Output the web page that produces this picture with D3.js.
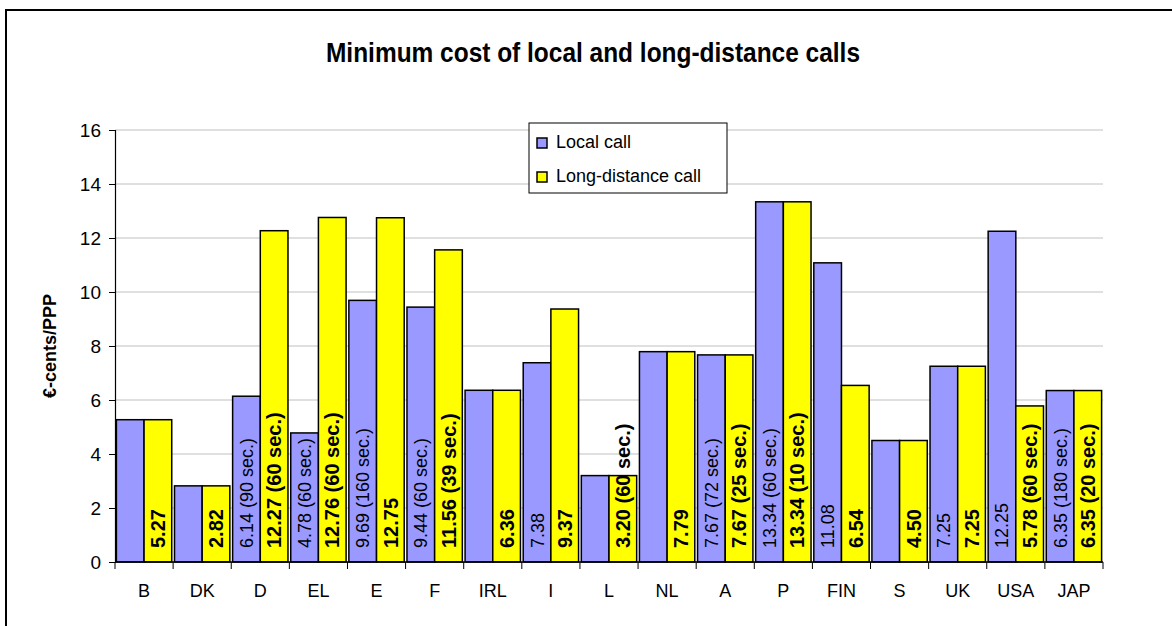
<!DOCTYPE html>
<html>
<head>
<meta charset="utf-8">
<script src="https://cdn.jsdelivr.net/npm/d3@7"></script>
<style>
  body { margin: 0; background: #fff; }
  text { font-family: "Liberation Sans", Arial, sans-serif; fill: #000; }
</style>
</head>
<body>
<script>
  var categories = ["B", "DK", "D", "EL", "E", "F", "IRL", "I", "L", "NL", "A", "P", "FIN", "S", "UK", "USA", "JAP"];
  var localCall = [5.27, 2.82, 6.14, 4.78, 9.69, 9.44, 6.36, 7.38, 3.20, 7.79, 7.67, 13.34, 11.08, 4.50, 7.25, 12.25, 6.35];
  var longCall = [5.27, 2.82, 12.27, 12.76, 12.75, 11.56, 6.36, 9.37, 3.20, 7.79, 7.67, 13.34, 6.54, 4.50, 7.25, 5.78, 6.35];
  var localLabels = ["", "", "6.14 (90 sec.)", "4.78 (60 sec.)", "9.69 (160 sec.)", "9.44 (60 sec.)", "", "7.38", "", "",
    "7.67 (72 sec.)", "13.34 (60 sec.)", "11.08", "", "7.25", "12.25", "6.35 (180 sec.)"];
  var longLabels = ["5.27", "2.82", "12.27 (60 sec.)", "12.76 (60 sec.)", "12.75", "11.56 (39 sec.)", "6.36", "9.37",
    "3.20 (60 sec.)", "7.79", "7.67 (25 sec.)", "13.34 (10 sec.)", "6.54", "4.50", "7.25", "5.78 (60 sec.)", "6.35 (20 sec.)"];
  var yTicks = [0, 2, 4, 6, 8, 10, 12, 14, 16];
  var seriesNames = ["Local call", "Long-distance call"];
  var colors = ["#9999ff", "#ffff00"];

  (function () {
    var W = 1172, H = 626;
    var mLeft = 115, mRight = 1103, mTop = 130, mBottom = 562;

    var svg = d3.select("body").append("svg")
      .attr("width", W).attr("height", H);

    // outer frame
    svg.append("rect")
      .attr("x", 6).attr("y", 10)
      .attr("width", W + 20).attr("height", H + 20)
      .attr("fill", "none").attr("stroke", "#000").attr("stroke-width", 2);

    svg.append("text")
      .attr("x", 593).attr("y", 62)
      .attr("text-anchor", "middle")
      .attr("font-size", 27).attr("font-weight", "bold")
      .attr("textLength", 534).attr("lengthAdjust", "spacingAndGlyphs")
      .text("Minimum cost of local and long-distance calls");

    var x = d3.scaleBand().domain(categories).range([mLeft, mRight]).padding(0);
    var y = d3.scaleLinear().domain([0, 16]).range([mBottom, mTop]);
    var inner = d3.scaleBand().domain([0, 1]).range([0, x.bandwidth()]).paddingOuter(0.05).paddingInner(0);

    // gridlines
    svg.append("g").selectAll("line")
      .data(yTicks.slice(1))
      .enter().append("line")
      .attr("x1", mLeft).attr("x2", mRight)
      .attr("y1", function (d) { return y(d); })
      .attr("y2", function (d) { return y(d); })
      .attr("stroke", "#c0c0c0").attr("stroke-width", 1);

    // y axis
    var yAxis = svg.append("g")
      .attr("transform", "translate(" + mLeft + ",0)")
      .call(d3.axisLeft(y).tickValues(yTicks).tickSize(6).tickPadding(8));
    yAxis.selectAll("text").attr("font-size", 19).style("font-family", "Liberation Sans, Arial, sans-serif");
    yAxis.selectAll("line, path").attr("stroke", "#000");
    yAxis.select("path").attr("stroke-width", 1.2);

    svg.append("text")
      .attr("transform", "translate(50," + ((mTop + mBottom) / 2) + ") rotate(-90)")
      .attr("text-anchor", "middle").attr("dy", "0.35em")
      .attr("font-size", 18).attr("font-weight", "bold")
      .text("€-cents/PPP");

    // bars
    var groups = svg.append("g").selectAll("g")
      .data(categories)
      .enter().append("g")
      .attr("transform", function (d) { return "translate(" + x(d) + ",0)"; });

    groups.selectAll("rect")
      .data(function (d, i) { return [localCall[i], longCall[i]]; })
      .enter().append("rect")
      .attr("x", function (d, j) { return inner(j); })
      .attr("y", function (d) { return y(d); })
      .attr("width", inner.bandwidth())
      .attr("height", function (d) { return y(0) - y(d); })
      .attr("fill", function (d, j) { return colors[j]; })
      .attr("stroke", "#000").attr("stroke-width", 1.5);

    groups.selectAll("text")
      .data(function (d, i) { return [localLabels[i], longLabels[i]]; })
      .enter().append("text")
      .attr("transform", function (d, j) {
        return "translate(" + (inner(j) + inner.bandwidth() / 2) + "," + (mBottom - 14) + ") rotate(-90)";
      })
      .attr("dy", "0.36em")
      .attr("font-size", function (d, j) { return j === 0 ? 18 : 20; })
      .attr("font-weight", function (d, j) { return j === 0 ? "normal" : "bold"; })
      .text(function (d) { return d; });

    // x axis
    svg.append("line")
      .attr("x1", mLeft).attr("x2", mRight)
      .attr("y1", mBottom).attr("y2", mBottom)
      .attr("stroke", "#000").attr("stroke-width", 1.5);

    var bounds = categories.map(function (c) { return x(c); }).concat([mRight]);
    svg.append("g").selectAll("line")
      .data(bounds)
      .enter().append("line")
      .attr("x1", function (d) { return d; }).attr("x2", function (d) { return d; })
      .attr("y1", mBottom).attr("y2", mBottom + 7)
      .attr("stroke", "#000");

    svg.append("g").selectAll("text")
      .data(categories)
      .enter().append("text")
      .attr("x", function (d) { return x(d) + x.bandwidth() / 2; })
      .attr("y", 597)
      .attr("text-anchor", "middle")
      .attr("font-size", 18)
      .text(function (d) { return d; });

    // legend
    var legend = svg.append("g");
    legend.append("rect")
      .attr("x", 529).attr("y", 123).attr("width", 198).attr("height", 70)
      .attr("fill", "#fff").attr("stroke", "#000").attr("stroke-width", 1);
    var items = legend.selectAll("g.item")
      .data(seriesNames)
      .enter().append("g")
      .attr("class", "item")
      .attr("transform", function (d, i) { return "translate(537," + (138 + i * 34) + ")"; });
    items.append("rect")
      .attr("width", 10).attr("height", 10)
      .attr("fill", function (d, i) { return colors[i]; })
      .attr("stroke", "#000").attr("stroke-width", 1.5);
    items.append("text")
      .attr("x", 19).attr("y", 10)
      .attr("font-size", 18)
      .text(function (d) { return d; });
  })();
</script>
</body>
</html>
